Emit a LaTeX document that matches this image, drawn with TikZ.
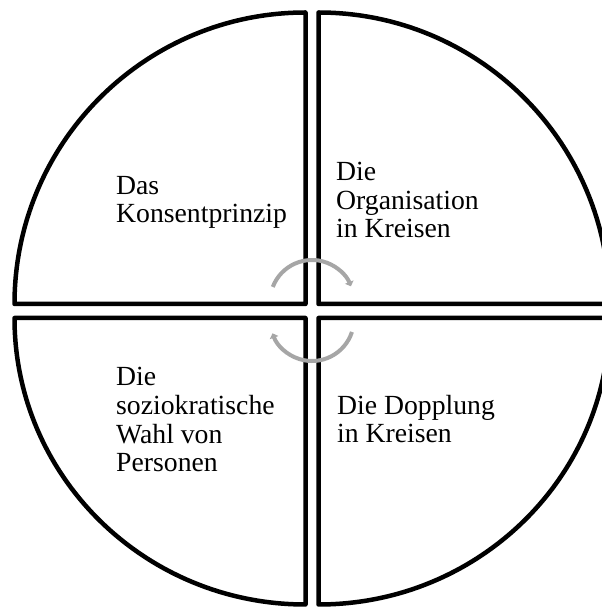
\documentclass[tikz,border=0pt]{standalone}
\usepackage{fontspec}
\setmainfont{Liberation Serif}
\usetikzlibrary{arrows.meta}
\definecolor{arrowgray}{RGB}{166,166,166}
\begin{document}
\begin{tikzpicture}[x=1pt,y=1pt,
  quad/.style={draw=black,line width=4.5pt,line join=round,fill=white},
  lbl/.style={inner sep=0pt,anchor=base west,align=left,
    font=\fontsize{27.7}{28.8}\selectfont},
  turn/.style={draw=arrowgray,line width=4pt,
    -{Triangle[length=4.5pt,width=9pt]}}]
\useasboundingbox (0,0) rectangle (602,608);
\clip (0,0) rectangle (602,608);
% quadrants
\coordinate (ctl) at (305.5,304);
\coordinate (ctr) at (318.5,304);
\coordinate (cbl) at (305.5,290);
\coordinate (cbr) at (318.5,290);
\draw[quad] (ctl) -- ++(-291,0) arc[start angle=180,end angle=90,x radius=291,y radius=291.5] -- cycle;
\draw[quad] (ctr) -- ++(0,291.5) arc[start angle=90,end angle=0,x radius=291,y radius=291.5] -- cycle;
\draw[quad] (cbl) -- ++(-291,0) arc[start angle=180,end angle=270,x radius=291,y radius=286.5] -- cycle;
\draw[quad] (cbr) -- ++(0,-286.5) arc[start angle=270,end angle=360,x radius=291,y radius=286.5] -- cycle;
% labels (anchored at the baseline of their last line)
\node[lbl] (tl) at (116,385) {Das\\Konsentprinzip};
\node[lbl] (tr) at (336,370) {Die\\Organisation\\in Kreisen};
\node[lbl] (bl) at (116,136) {Die\\soziokratische\\Wahl von\\Personen};
\node[lbl] (br) at (337,165) {Die Dopplung\\in Kreisen};
% circular arrows
\draw[turn] (312,306) ++(159:42) arc[start angle=159,end angle=22,radius=42];
\draw[turn] (312,289) ++(-18:42) arc[start angle=-18,end angle=-160,radius=42];
\end{tikzpicture}
\end{document}
